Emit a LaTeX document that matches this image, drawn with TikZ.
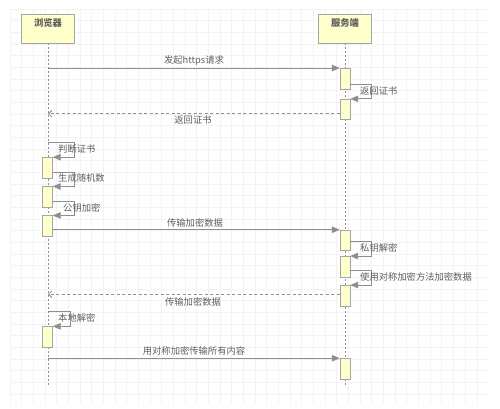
\documentclass[tikz,border=0pt]{standalone}
\usepackage{fontspec}
\setmainfont{Noto Sans CJK SC}
\usepackage{tikz}
\usetikzlibrary{arrows.meta}
\definecolor{gridgray}{HTML}{F3F3F3}
\definecolor{boxfill}{HTML}{FFFFCC}
\definecolor{boxline}{HTML}{A5A5A5}
\definecolor{msggray}{HTML}{8E8E8E}
\definecolor{txtgray}{HTML}{5E5E5E}

\begin{document}
\begin{tikzpicture}[x=1pt, y=-1pt,
  head/.style={rectangle, draw=boxline, fill=boxfill, minimum width=53pt, inner sep=4.5pt, text height=8.3pt, text depth=11.7pt, font=\fontsize{9.3}{11}\selectfont\bfseries, text=txtgray},
  act/.style={rectangle, draw=boxline, fill=boxfill, minimum width=10pt, minimum height=20.5pt, inner sep=0pt},
  lbl/.style={font=\fontsize{9.3}{11}\selectfont, text=txtgray, inner sep=0pt},
  life/.style={draw=msggray, line width=0.7pt, dash pattern=on 2pt off 2pt},
  arr/.style={draw=msggray, line width=0.8pt, -{Triangle[length=8pt,width=6.5pt]}},
  ret/.style={draw=msggray, line width=0.8pt, dash pattern=on 3pt off 2.5pt, -{Straight Barb[length=3.5pt,width=7pt]}}
]
\useasboundingbox (0,0) rectangle (500,409);
\foreach \i in {0,...,40} \draw[gridgray, line width=0.6pt] (10+11.67*\i,9) -- (10+11.67*\i,404);
\foreach \j in {0,...,33} \draw[gridgray, line width=0.6pt] (10,9+11.67*\j) -- (488,9+11.67*\j);

\node[head] (bh) at (48,28.5)  {浏览器};
\node[head] (sh) at (345,28.5) {服务端};
\draw[life] (bh.south) -- ++(0,343.7);
\draw[life] (sh.south) -- ++(0,343.7);

\node[act] (s1) at (345,78.5)  {};
\node[act] (s2) at (345,109.3) {};
\node[act] (s3) at (345,240.2) {};
\node[act] (s4) at (345,266.5) {};
\node[act] (s5) at (345,295.5) {};
\node[act] (s6) at (345,368.7) {};
\node[act] (b1) at (47.5,167.6) {};
\node[act] (b2) at (47.5,196.9) {};
\node[act] (b3) at (47.5,225.9) {};
\node[act] (b4) at (47.5,336.8) {};

\draw[arr] (bh.south |- s1.north west) -- (s1.north west);
\draw[arr] (s1.east |- 0,84) -- ++(21,0) |- (s2.north east);
\draw[ret] (s2.west |- 0,113.7) -- (bh.south |- 0,113.7);
\draw[arr] (bh.south |- 0,142.3) -- ++(26,0) |- (b1.north east);
\draw[arr] (b1.east |- 0,172.7) -- ++(21.5,0) |- (b2.north east);
\draw[arr] (b2.east |- 0,201.7) -- ++(21.5,0) |- (b3.north east);
\draw[arr] (b3.east |- s3.north west) -- (s3.north west);
\draw[arr] (s3.east |- 0,241) -- ++(21,0) |- (s4.north east);
\draw[arr] (s4.east |- 0,270.7) -- ++(21,0) |- (s5.north east);
\draw[ret] (s5.west |- 0,294.3) -- (bh.south |- 0,294.3);
\draw[arr] (bh.south |- 0,311.7) -- ++(22,0) |- (b4.north east);
\draw[arr] (bh.south |- s6.north west) -- (s6.north west);

\node[lbl] (t1) at (194,61) {发起https请求};
\node[lbl, anchor=west] (t2) at (360,91) {返回证书};
\node[lbl] (t3) at (193,120) {返回证书};
\node[lbl, anchor=west] (t4) at (58,149) {判断证书};
\node[lbl, anchor=west] (t5) at (58,178) {生成随机数};
\node[lbl, anchor=west] (t6) at (63,207.7) {公钥加密};
\node[lbl] (t7) at (195,223) {传输加密数据};
\node[lbl, anchor=west] (t8) at (360,247.7) {私钥解密};
\node[lbl, anchor=west] (t9) at (360,277) {使用对称加密方法加密数据};
\node[lbl] (t10) at (193,301.7) {传输加密数据};
\node[lbl, anchor=west] (t11) at (58,317.7) {本地解密};
\node[lbl] (t12) at (194,351) {用对称加密传输所有内容};
\end{tikzpicture}
\end{document}
